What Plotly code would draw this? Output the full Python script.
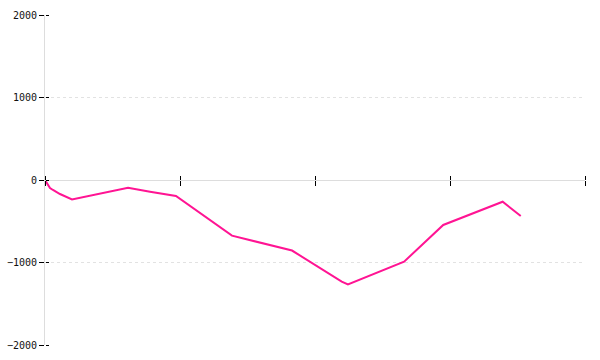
import plotly.graph_objects as go

# Data
x_values = [0, 0.037, 0.059, 0.111, 0.2, 0.615, 0.778, 0.97, 1.385, 1.83, 2.198, 2.244, 2.66, 2.95, 3.39, 3.524]
y_values = [0, -97, -121, -170, -236, -93, -142, -194, -675, -855, -1233, -1267, -990, -545, -263, -436]
y_tick_values = [-2000, -1000, 0, 1000, 2000]
x_tick_values = [0, 1, 2, 3, 4]

fig = go.Figure()
fig.add_trace(go.Scatter(
    x=x_values, y=y_values, mode="lines",
    line=dict(color="#FF1493", width=2),
    showlegend=False, hoverinfo="skip",
))
# invisible trace to activate secondary axes
fig.add_trace(go.Scatter(x=[0], y=[0], xaxis="x2", yaxis="y2", mode="markers",
                         marker=dict(opacity=0), showlegend=False, hoverinfo="skip"))

font = dict(family="DejaVu Sans Mono", size=10, color="#111")

fig.update_layout(
    width=600, height=360,
    margin=dict(l=45, r=15, t=15, b=15, autoexpand=False),
    paper_bgcolor="white", plot_bgcolor="white",
    font=font,
    xaxis=dict(
        range=[0, 4], tickvals=x_tick_values, showticklabels=False,
        showgrid=False, zeroline=False, automargin=False,
        showline=True, linecolor="#dddddd", linewidth=1,
        anchor="free", position=0.5,
        ticks="outside", ticklen=5, tickcolor="black", tickwidth=1,
    ),
    xaxis2=dict(
        range=[0, 4], tickvals=x_tick_values, showticklabels=False,
        showgrid=False, zeroline=False, showline=False, automargin=False,
        overlaying="x", side="top", anchor="free", position=0.5,
        ticks="outside", ticklen=4, tickcolor="black", tickwidth=1,
    ),
    yaxis=dict(
        range=[-2000, 2000], tickvals=y_tick_values,
        showgrid=True, gridcolor="#e2e2e2", griddash="3px,3px", gridwidth=1,
        zeroline=False, automargin=False,
        showline=True, linecolor="#dddddd", linewidth=1,
        ticks="outside", ticklen=5, tickcolor="black", tickwidth=1,
        tickfont=font,
    ),
    yaxis2=dict(
        range=[-2000, 2000], tickvals=y_tick_values, showticklabels=False,
        showgrid=False, zeroline=False, showline=False, automargin=False,
        overlaying="y", side="right", anchor="free", position=0,
        ticks="outside", ticklen=3, tickcolor="black", tickwidth=1,
    ),
)

fig.write_html("out.html")
